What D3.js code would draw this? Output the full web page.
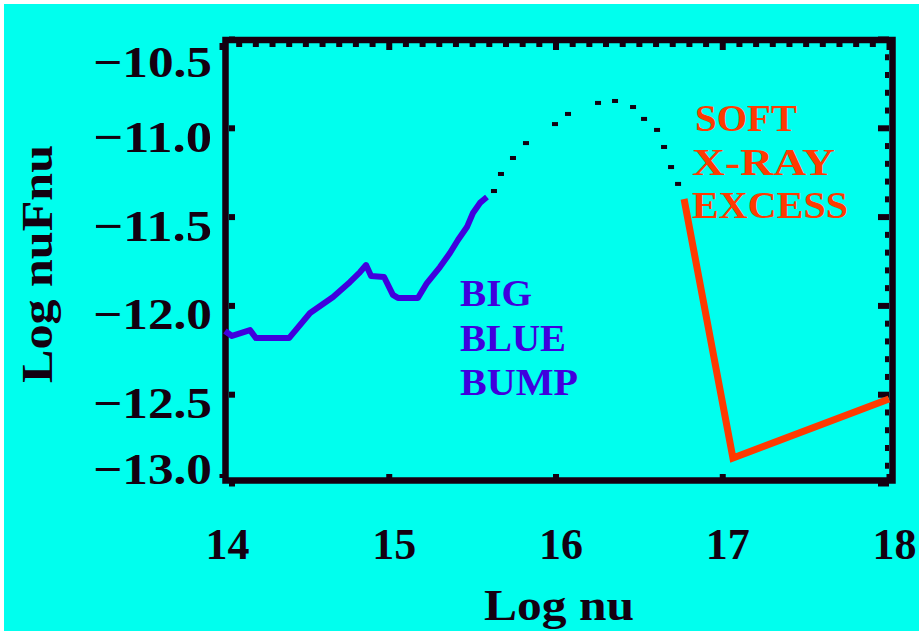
<!DOCTYPE html>
<html>
<head>
<meta charset="utf-8">
<script src="https://cdn.jsdelivr.net/npm/d3@7"></script>
<style>
  html, body { margin: 0; padding: 0; background: #ffffff; }
  svg { display: block; }
  text { font-family: "Liberation Serif", "DejaVu Serif", serif; font-weight: bold; }
</style>
</head>
<body>
<svg id="chart" width="919" height="631"></svg>
<script>
// Spectral energy distribution: log(nu F_nu) against log(nu)

// Axis ticks and their labels
const xTicks = [14, 15, 16, 17, 18];
const xTickLabels = ["14", "15", "16", "17", "18"];
const yTicks = [-10.5, -11.0, -11.5, -12.0, -12.5, -13.0];
const yTickLabels = ["\u221210.5", "\u221211.0", "\u221211.5", "\u221212.0", "\u221212.5", "\u221213.0"];

// Optical/UV continuum ("big blue bump"), [log nu, log nuFnu]
const blueBump = [
  [14.018, -12.144], [14.060, -12.172], [14.168, -12.139], [14.204, -12.184],
  [14.402, -12.184], [14.528, -12.043], [14.666, -11.953], [14.768, -11.868],
  [14.828, -11.812], [14.864, -11.773], [14.894, -11.834], [14.972, -11.840],
  [15.025, -11.941], [15.055, -11.958], [15.175, -11.958], [15.229, -11.874],
  [15.307, -11.784], [15.367, -11.705], [15.415, -11.632], [15.469, -11.559],
  [15.505, -11.480], [15.547, -11.423], [15.589, -11.390]
];

// Unobserved EUV gap, drawn as dots
const euvGap = [
  [15.631, -11.356], [15.673, -11.260], [15.745, -11.170], [15.823, -11.086],
  [15.997, -10.979], [16.075, -10.922], [16.255, -10.860], [16.357, -10.849],
  [16.465, -10.883], [16.531, -10.950], [16.609, -11.012], [16.651, -11.108],
  [16.693, -11.221], [16.735, -11.316]
];

// Soft X-ray excess and hard power law
const softXray = [
  [16.771, -11.401], [17.064, -12.859], [18.0, -12.527]
];

const annotationBlue = ["BIG", "BLUE", "BUMP"];
const annotationRed = ["SOFT", "X-RAY", "EXCESS"];

const ink = "#140010";
const bg = "#00ffee";
const blue = "#4000dd";
const red = "#ff3a00";

const svg = d3.select("#chart");

// background panel
svg.append("rect").attr("x", 4).attr("y", 4).attr("width", 915).attr("height", 627).attr("fill", bg);

const x = d3.scaleLinear().domain([14, 18]).range([222, 889]);
const y = d3.scaleLinear().domain([-10.5, -13.0]).range([39, 483]);

const frameL = x.range()[0] + 3.5, frameR = x.range()[1] + 3.5;
const frameT = 40, frameB = 480.5;
const innerL = frameL + 3.5, innerR = frameR - 3.5, innerT = frameT + 3, innerB = frameB - 2.5;

// Tick marks, drawn inward from the frame
function styleTicks(g) {
  g.select(".domain").remove();
  g.selectAll(".tick line").attr("stroke", ink).attr("stroke-width", 6);
  g.selectAll(".tick text").remove();
}
const minorX = d3.range(141, 180).map(d => d / 10).filter(d => !xTicks.includes(d));
const minorY = d3.range(-130, -104).map(d => d / 10).filter(d => !yTicks.includes(d));

svg.append("g").attr("transform", `translate(0,${innerT})`)
  .call(d3.axisTop(x).tickValues(minorX).tickSize(-4).tickSizeOuter(0).tickFormat("")).call(styleTicks);
svg.append("g").attr("transform", `translate(0,${innerT})`)
  .call(d3.axisTop(x).tickValues(xTicks).tickSize(-7).tickSizeOuter(0).tickFormat("")).call(styleTicks);
svg.append("g").attr("transform", `translate(0,${innerB})`)
  .call(d3.axisBottom(x).tickValues(xTicks).tickSize(-4).tickSizeOuter(0).tickFormat("")).call(styleTicks);
svg.append("g").attr("transform", `translate(${innerL},0)`)
  .call(d3.axisLeft(y).tickValues(yTicks).tickSize(-6).tickSizeOuter(0).tickFormat("")).call(styleTicks);
svg.append("g").attr("transform", `translate(${innerR},0)`)
  .call(d3.axisRight(y).tickValues(minorY).tickSize(-4).tickSizeOuter(0).tickFormat("")).call(styleTicks);
svg.append("g").attr("transform", `translate(${innerR},0)`)
  .call(d3.axisRight(y).tickValues(yTicks).tickSize(-11).tickSizeOuter(0).tickFormat("")).call(styleTicks);

// frame
svg.append("rect")
  .attr("x", frameL).attr("y", frameT)
  .attr("width", frameR - frameL).attr("height", frameB - frameT)
  .attr("fill", "none").attr("stroke", ink).attr("stroke-width", 6.5);

// Tick labels
svg.append("g").selectAll("text").data(yTicks).join("text")
  .attr("x", 212)
  .attr("y", d => Math.max(77, Math.min(484, y(d) + 24)))
  .attr("text-anchor", "end")
  .attr("font-size", 44)
  .attr("fill", ink)
  .attr("textLength", 119).attr("lengthAdjust", "spacingAndGlyphs")
  .text((d, i) => yTickLabels[i]);

svg.append("g").selectAll("text").data(xTicks).join("text")
  .attr("x", d => x(d) + 5.5)
  .attr("y", 559)
  .attr("text-anchor", "middle")
  .attr("font-size", 44)
  .attr("fill", ink)
  .attr("textLength", 44).attr("lengthAdjust", "spacingAndGlyphs")
  .text((d, i) => xTickLabels[i]);

// Axis titles
svg.append("text")
  .attr("x", 559).attr("y", 620)
  .attr("text-anchor", "middle")
  .attr("font-size", 45).attr("fill", ink)
  .attr("textLength", 150).attr("lengthAdjust", "spacingAndGlyphs")
  .text("Log nu");

svg.append("text")
  .attr("transform", "translate(52,264) rotate(-90)")
  .attr("text-anchor", "middle")
  .attr("font-size", 45).attr("fill", ink)
  .attr("textLength", 238).attr("lengthAdjust", "spacingAndGlyphs")
  .text("Log nuFnu");

// Data curves
const line = d3.line().x(d => x(d[0])).y(d => y(d[1]));

svg.append("path").datum(blueBump)
  .attr("d", line).attr("fill", "none")
  .attr("stroke", blue).attr("stroke-width", 6).attr("stroke-linejoin", "round");

svg.append("g").selectAll("rect").data(euvGap).join("rect")
  .attr("x", d => x(d[0]) - 3).attr("y", d => y(d[1]) - 2)
  .attr("width", 6).attr("height", 4)
  .attr("fill", ink);

svg.append("path").datum(softXray)
  .attr("d", line).attr("fill", "none")
  .attr("stroke", red).attr("stroke-width", 7).attr("stroke-linejoin", "miter");

// Annotations
const blueWidths = [72, 106, 118];
svg.append("g").selectAll("text").data(annotationBlue).join("text")
  .attr("x", 460).attr("y", (d, i) => 306 + i * 44.5)
  .attr("font-size", 38).attr("fill", blue)
  .attr("textLength", (d, i) => blueWidths[i]).attr("lengthAdjust", "spacingAndGlyphs")
  .text(d => d);

const redX = [695, 692, 692];
const redWidths = [102, 143, 156];
svg.append("g").selectAll("text").data(annotationRed).join("text")
  .attr("x", (d, i) => redX[i]).attr("y", (d, i) => 131 + i * 43.5)
  .attr("font-size", 38).attr("fill", red)
  .attr("textLength", (d, i) => redWidths[i]).attr("lengthAdjust", "spacingAndGlyphs")
  .text(d => d);
</script>
</body>
</html>
